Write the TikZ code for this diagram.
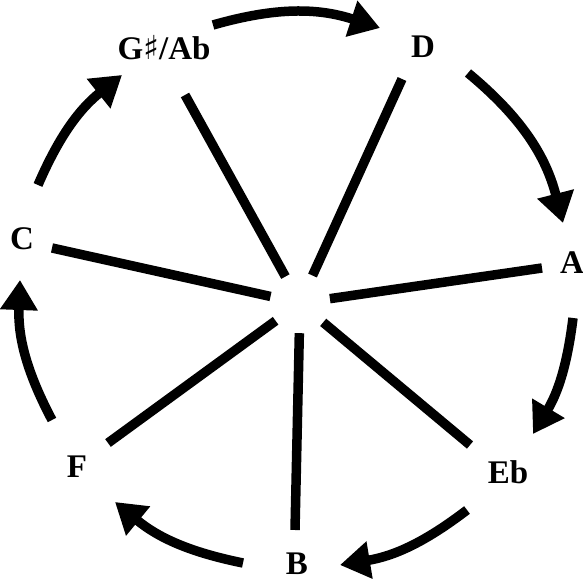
\documentclass[tikz,border=0pt]{standalone}
\usepackage{fontspec}
\setmainfont{Liberation Serif}
\newfontfamily\symfont{DejaVu Sans}
\usetikzlibrary{arrows.meta}
\begin{document}
\begin{tikzpicture}[x=1pt,y=1pt,
  lbl/.style={font=\fontsize{33}{38}\selectfont\bfseries, inner sep=0pt},
  spoke/.style={line width=9.5pt},
  arc/.style={line width=9.5pt, -{Triangle[length=30pt,width=36pt]}}]
\useasboundingbox (0,0) rectangle (583,583);
% labels
\node[lbl] (G) at (164,535) {G{\symfont ♯}/Ab};
\node[lbl] (D) at (423,536) {D};
\node[lbl] (A) at (572,320) {A};
\node[lbl] (Eb) at (508,111) {Eb};
\node[lbl] (B) at (297,19) {B};
\node[lbl] (F) at (77,116) {F};
\node[lbl] (C) at (22,344) {C};
% centre hub
\node[circle, minimum size=60pt, inner sep=0pt] (c) at (300,280) {};
% spoke ends
\coordinate (sG) at (185,488);
\coordinate (sD) at (402,504);
\coordinate (sA) at (542,315);
\coordinate (sEb) at (470,138);
\coordinate (sB) at (295,53);
\coordinate (sF) at (108,140);
\coordinate (sC) at (52,335);
\foreach \s in {sG,sD,sA,sEb,sB,sF,sC}{\draw[spoke] (\s) -- (c);}
% arc ends
\coordinate (a1) at (213,558); \coordinate (b1) at (380,555);
\coordinate (a2) at (468,510); \coordinate (b2) at (563,360);
\coordinate (a3) at (573,265); \coordinate (b3) at (533,149);
\coordinate (a4) at (467,73);  \coordinate (b4) at (340,18);
\coordinate (a5) at (243,20);  \coordinate (b5) at (115,81);
\coordinate (a6) at (52,163);  \coordinate (b6) at (20,303);
\coordinate (a7) at (38,398);  \coordinate (b7) at (122,508);
\draw[arc] (a1) to[bend left=17] (b1);
\draw[arc] (a2) to[bend left=18] (b2);
\draw[arc] (a3) to[bend left=12] (b3);
\draw[arc] (a4) to[bend left=14] (b4);
\draw[arc] (a5) to[bend left=14] (b5);
\draw[arc] (a6) to[bend left=15] (b6);
\draw[arc] (a7) to[bend left=14] (b7);
\end{tikzpicture}
\end{document}
